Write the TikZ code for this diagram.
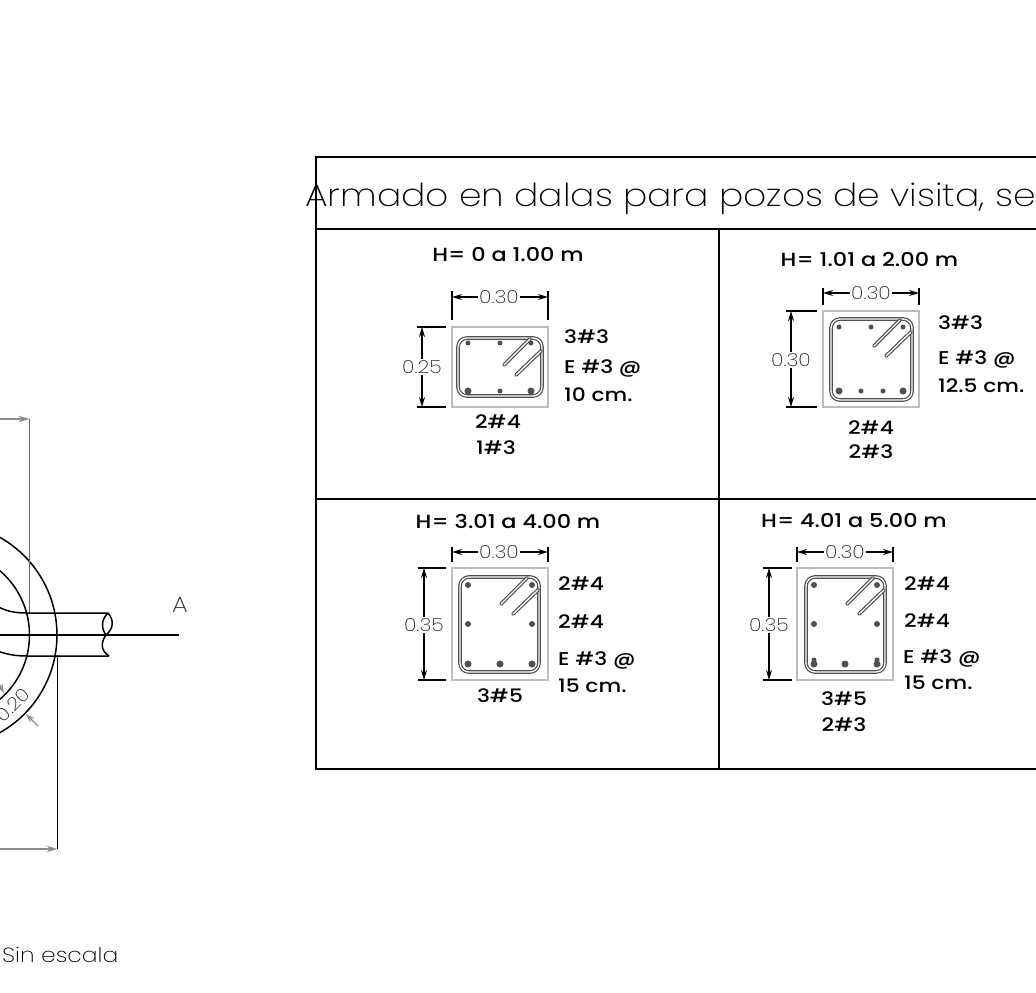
\documentclass[tikz,border=0pt]{standalone}
\usepackage{fontspec}
\usetikzlibrary{arrows.meta}
\setmainfont{Poppins}
\newfontfamily\lightf[FakeStretch=1.14]{Poppins ExtraLight}
\newfontfamily\medf[FakeStretch=1.18]{Poppins Medium}
\definecolor{dimgrey}{HTML}{8C8C8C}
\definecolor{vertgrey}{HTML}{666666}
\definecolor{concrete}{HTML}{BDBDBD}
\definecolor{steel}{HTML}{505050}
\tikzset{
  x=1pt,y=-1pt,
  tableline/.style={draw=black,line width=1.5pt},
  concbox/.style={draw=concrete,line width=1.5pt},
  steelline/.style={draw=steel,line width=1.2pt,double=white,double distance=1.3pt},
  stirrupline/.style={steelline,rounded corners=9pt},
  dimline/.style={draw=black,line width=1.4pt},
  dimarrow/.style={dimline,{Stealth[length=10pt,width=6pt]}-{Stealth[length=10pt,width=6pt]}},
  dimtext/.style={font=\lightf\fontsize{18}{20}\selectfont,fill=white,inner sep=1pt,text=black!85},
  lab/.style={font=\medf\fontsize{18.5}{20}\selectfont,inner sep=0pt,text=black},
  lableft/.style={lab,anchor=west},
  headt/.style={font=\medf\fontsize{19}{20}\selectfont,inner sep=0pt,text=black},
  planline/.style={draw=black,line width=1.5pt},
  greyline/.style={draw=dimgrey,line width=1.5pt},
  vertline/.style={draw=vertgrey,line width=1.5pt},
  greyarrow/.style={greyline,-{Stealth[length=11pt,width=6.5pt]}},
}
\newcommand{\stirrupbox}[4]{%
  \draw[stirrupline] (#1,#2) rectangle (#3,#4);
  \draw[steelline,line cap=round] (#3-12,#2+1) -- (#3-38,#2+27);
  \draw[steelline,line cap=round] (#3-1,#2+13) -- (#3-26,#2+37);
}
\newcommand{\rebar}[2]{\fill[steel] (#1,#2) circle (2.5pt);}
\newcommand{\rebarM}[2]{\fill[steel] (#1,#2) circle (3pt);}
\newcommand{\rebarL}[2]{\fill[steel] (#1,#2) circle (3.5pt);}
\begin{document}
\begin{tikzpicture}
\path[use as bounding box,clip] (0,0) rectangle (1036,993);
\fill[white] (0,0) rectangle (1036,993);

% table
\draw[tableline] (1040,157) -- (316,157) -- (316,769) -- (1040,769);
\draw[tableline] (316,229) -- (1040,229);
\draw[tableline] (316,499) -- (1040,499);
\draw[tableline] (719,229) -- (719,769);
\node[font=\lightf\fontsize{31.7}{36}\selectfont,anchor=base west,inner sep=0pt] (title) at (305,206) {Armado en dalas para pozos de visita, se};

% section 1
\node[headt] (h1) at (508,255) {H= 0 a 1.00 m};
\draw[concbox] (452,327) rectangle (548,407);
\stirrupbox{458}{338}{542}{396}
\rebar{468}{343}\rebar{500}{343}\rebar{531}{343}
\rebarL{468}{391}\rebar{500}{391}\rebarL{531}{391}
\draw[dimline] (452,291) -- (452,320);
\draw[dimline] (548,291) -- (548,320);
\draw[dimarrow] (452,297) -- (548,297);
\node[dimtext] (d1a) at (499,297) {0.30};
\draw[dimline] (417,327) -- (446,327);
\draw[dimline] (417,407) -- (446,407);
\draw[dimarrow] (422,327) -- (422,407);
\node[dimtext] (d1b) at (422,367) {0.25};
\node[lableft] (l1a) at (564,337) {3\#3};
\node[lableft] (l1b) at (564,368) {E \#3 @};
\node[lableft] (l1c) at (564,395) {10 cm.};
\node[lab] (l1d) at (498,422) {2\#4};
\node[lab] (l1e) at (496,448) {1\#3};

% section 2
\node[headt] (h2) at (869.5,260) {H= 1.01 a 2.00 m};
\draw[concbox] (823,311) rectangle (919,407);
\stirrupbox{831}{319}{912}{400}
\rebar{839}{327}\rebar{871}{327}\rebar{903}{327}
\rebarL{839}{391}\rebar{861}{391}\rebar{883}{391}\rebarL{903}{391}
\draw[dimline] (823,288) -- (823,305);
\draw[dimline] (919,288) -- (919,305);
\draw[dimarrow] (823,293) -- (919,293);
\node[dimtext] (d2a) at (871,293) {0.30};
\draw[dimline] (786,311) -- (817,311);
\draw[dimline] (786,407) -- (817,407);
\draw[dimarrow] (791,311) -- (791,407);
\node[dimtext] (d2b) at (791,360) {0.30};
\node[lableft] (l2a) at (938,323) {3\#3};
\node[lableft] (l2b) at (938,359) {E \#3 @};
\node[lableft] (l2c) at (938,386) {12.5 cm.};
\node[lab] (l2d) at (871,428) {2\#4};
\node[lab] (l2e) at (871,452) {2\#3};

% section 3
\node[headt] (h3) at (508,521) {H= 3.01 a 4.00 m};
\draw[concbox] (452,568) rectangle (548,680);
\stirrupbox{460}{577}{539}{672}
\rebarM{468}{585}\rebarM{532}{585}
\rebarM{468}{624}\rebarM{532}{624}
\rebarL{468}{664}\rebarL{500}{664}\rebarL{532}{664}
\draw[dimline] (452,547) -- (452,562);
\draw[dimline] (548,547) -- (548,562);
\draw[dimarrow] (452,552) -- (548,552);
\node[dimtext] (d3a) at (499,552) {0.30};
\draw[dimline] (418,568) -- (446,568);
\draw[dimline] (418,680) -- (446,680);
\draw[dimarrow] (424,568) -- (424,680);
\node[dimtext] (d3b) at (424,625) {0.35};
\node[lableft] (l3a) at (558,584) {2\#4};
\node[lableft] (l3b) at (558,622) {2\#4};
\node[lableft] (l3c) at (558,660) {E \#3 @};
\node[lableft] (l3d) at (558,686) {15 cm.};
\node[lab] (l3e) at (500,696) {3\#5};

% section 4
\node[headt] (h4) at (854,521) {H= 4.01 a 5.00 m};
\draw[concbox] (797,568) rectangle (893,680);
\stirrupbox{806}{577}{885}{672}
\rebarM{814}{585}\rebarM{877}{585}
\rebarM{814}{624}\rebarM{877}{624}
\rebar{814}{660}\rebar{877}{660}
\rebarL{814}{664}\rebarL{845}{664}\rebarL{877}{664}
\draw[dimline] (797,547) -- (797,562);
\draw[dimline] (893,547) -- (893,562);
\draw[dimarrow] (797,552) -- (893,552);
\node[dimtext] (d4a) at (845,552) {0.30};
\draw[dimline] (763,568) -- (792,568);
\draw[dimline] (763,680) -- (792,680);
\draw[dimarrow] (769,568) -- (769,680);
\node[dimtext] (d4b) at (769,625) {0.35};
\node[lableft] (l4a) at (904,584) {2\#4};
\node[lableft] (l4b) at (904,621) {2\#4};
\node[lableft] (l4c) at (903,658) {E \#3 @};
\node[lableft] (l4d) at (904,683) {15 cm.};
\node[lab] (l4e) at (844,699) {3\#5};
\node[lab] (l4f) at (844,725) {2\#3};

% plan fragment
\draw[planline] (-55,635) circle (112);
\draw[planline] (-55,635) circle (84.5);
\draw[greyarrow] (-5,419) -- (29.5,419);
\draw[vertline] (29.5,419) -- (29.5,613);
\draw[greyarrow] (-5,849) -- (57.5,849);
\draw[planline] (57.5,849) -- (57.5,655);
\draw[planline] (-5,605) .. controls (5,611) and (14,613) .. (27,613) -- (108,613);
\draw[planline] (-5,650) .. controls (5,654) and (14,656) .. (27,656) -- (109,656);
\draw[planline] (108,613) .. controls (101,620) and (101,628) .. (106,635) .. controls (101,642) and (100,650) .. (109,656);
\draw[planline] (108,613) .. controls (114,620) and (114,628) .. (106,635);
\draw[planline] (-5,635) -- (179,635);
\node[font=\lightf\fontsize{22}{24}\selectfont,inner sep=0pt,text=black!85] (secA) at (180,605) {A};
\node[font=\lightf\fontsize{18}{20}\selectfont,inner sep=0pt,rotate=45,text=black!85] (dim20) at (13,705) {0.20};
\draw[draw=dimgrey,line width=1.4pt,-{Stealth[length=9pt,width=6pt]}] (38,726) -- (26,714);
\draw[draw=dimgrey,line width=1.4pt,-{Stealth[length=9pt,width=6pt]}] (-3,680) -- (4,693);
\node[font=\lightf\fontsize{20.5}{22}\selectfont,anchor=base west,inner sep=0pt,text=black] (scale) at (2,962) {Sin escala};
\end{tikzpicture}
\end{document}
